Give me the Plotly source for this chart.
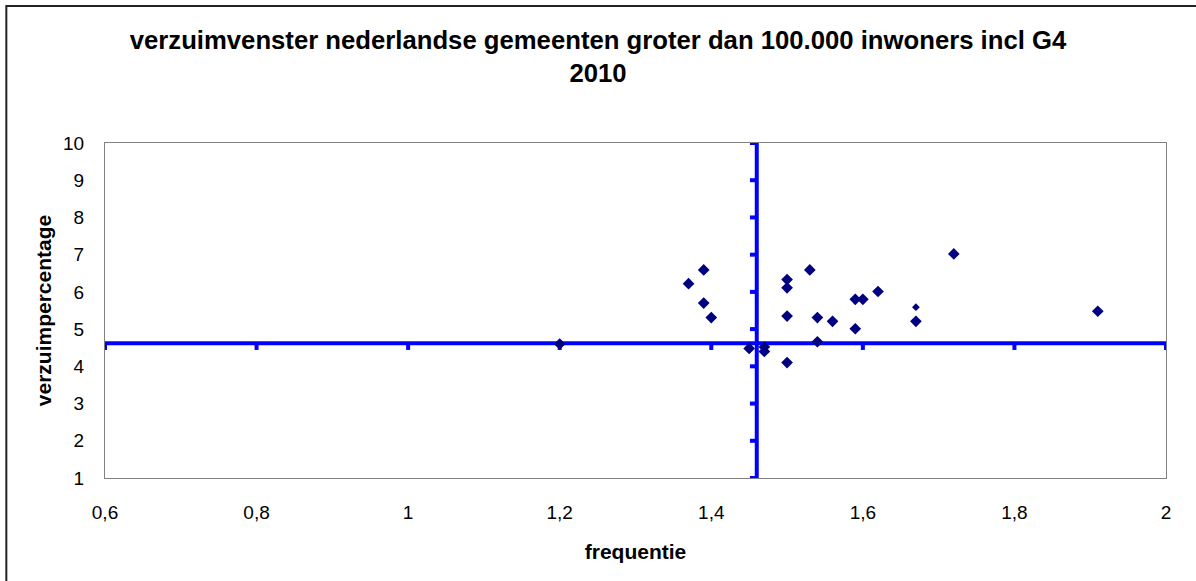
import plotly.graph_objects as go

# frequentie (x) en verzuimpercentage (y) per gemeente
frequentie = [1.37, 1.39, 1.39, 1.40, 1.20, 1.45, 1.47, 1.47, 1.50, 1.50, 1.50, 1.50,
              1.53, 1.54, 1.54, 1.56, 1.59, 1.59, 1.60, 1.62, 1.67, 1.72, 1.91]
verzuim = [6.22, 6.59, 5.70, 5.31, 4.60, 4.48, 4.52, 4.40, 6.33, 6.11, 5.35, 4.10,
           6.59, 5.31, 4.66, 5.21, 5.80, 5.01, 5.80, 6.01, 5.21, 7.02, 5.48]

# apart punt (kleiner symbool)
extra_x = [1.67]
extra_y = [5.59]

# kruislijnen van het verzuimvenster
gem_frequentie = 1.46
gem_verzuim = 4.62

x_ticks = [0.6, 0.8, 1.0, 1.2, 1.4, 1.6, 1.8, 2.0]
x_ticktext = ["0,6", "0,8", "1", "1,2", "1,4", "1,6", "1,8", "2"]
y_ticks = [1, 2, 3, 4, 5, 6, 7, 8, 9, 10]

BLUE = "#0000FF"
NAVY = "#000080"

fig = go.Figure()

# horizontale lijn met streepjes
hx, hy = [x_ticks[0], x_ticks[-1], None], [gem_verzuim, gem_verzuim, None]
for t in x_ticks:
    hx += [t, t, None]
    hy += [gem_verzuim, gem_verzuim - 0.18, None]
fig.add_trace(go.Scatter(x=hx, y=hy, mode="lines", line=dict(color=BLUE, width=4),
                         hoverinfo="skip", showlegend=False))

# verticale lijn met streepjes
vx, vy = [gem_frequentie, gem_frequentie, None], [y_ticks[0], y_ticks[-1], None]
for t in y_ticks:
    vx += [gem_frequentie, gem_frequentie - 0.009, None]
    vy += [t, t, None]
fig.add_trace(go.Scatter(x=vx, y=vy, mode="lines", line=dict(color=BLUE, width=4),
                         hoverinfo="skip", showlegend=False))

fig.add_trace(go.Scatter(
    x=frequentie, y=verzuim, mode="markers",
    marker=dict(symbol="diamond", size=9, color=NAVY),
    showlegend=False))
fig.add_trace(go.Scatter(
    x=extra_x, y=extra_y, mode="markers",
    marker=dict(symbol="diamond", size=6, color=NAVY),
    showlegend=False))

fig.update_layout(
    width=1196, height=581,
    margin=dict(l=105, r=30, t=143, b=103),
    paper_bgcolor="white", plot_bgcolor="white",
    font=dict(family="Liberation Sans, Arial, sans-serif", size=19, color="black"),
    title=dict(
        text="<b>verzuimvenster nederlandse gemeenten groter dan 100.000 inwoners incl G4<br>2010</b>",
        x=0.5, xanchor="center", y=0.916, yanchor="top",
        font=dict(size=25.7)),
    shapes=[dict(type="rect", xref="paper", yref="paper",
                 x0=-0.093, x1=1.2, y0=-0.6, y1=1.409,
                 line=dict(color="#222222", width=2), layer="below")],
)

fig.update_xaxes(
    range=[0.6, 2.0], tickvals=x_ticks, ticktext=x_ticktext,
    showgrid=False, zeroline=False, showline=True, mirror=True,
    linecolor="#808080", linewidth=1, ticks="", ticklabelstandoff=17,
    title=dict(text="<b>frequentie</b>", font=dict(size=21), standoff=22))
fig.update_yaxes(
    range=[1, 10], tickvals=y_ticks,
    showgrid=False, zeroline=False, showline=True, mirror=True,
    linecolor="#808080", linewidth=1, ticks="", ticklabelstandoff=16,
    title=dict(text="<b>verzuimpercentage</b>", font=dict(size=21), standoff=5))

fig.write_html("out.html", config={"displayModeBar": False},
               post_script="document.body.style.margin='0';")
